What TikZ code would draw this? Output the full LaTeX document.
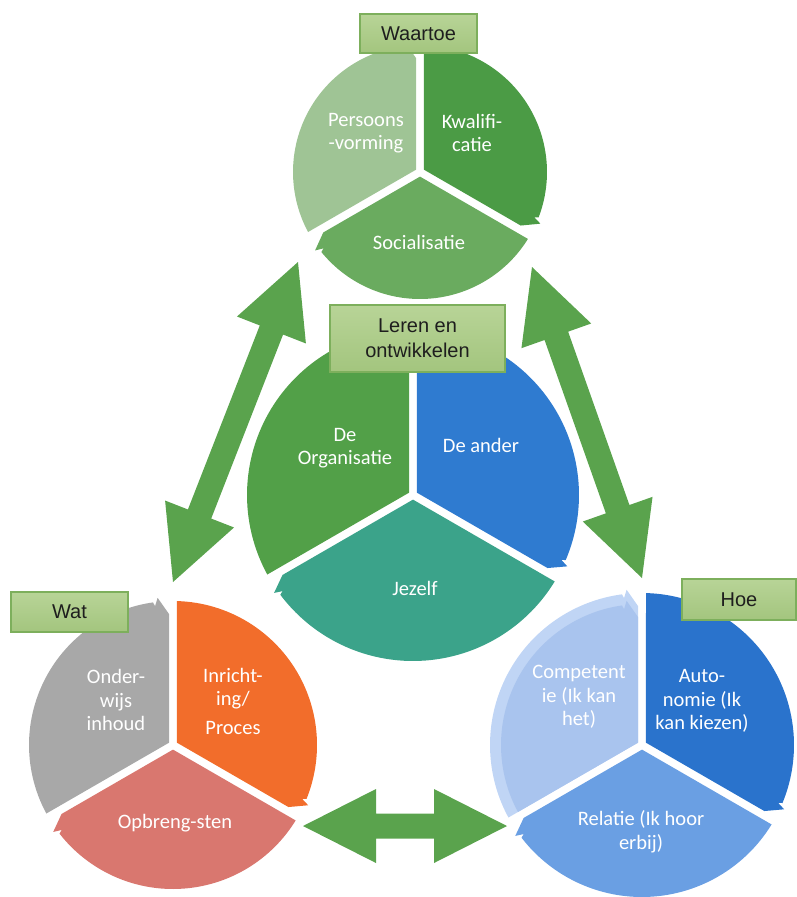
\documentclass[tikz,border=0pt]{standalone}
\usepackage{fontspec}
\setmainfont{Carlito}
\newfontfamily\arialfont{Liberation Sans}
\usetikzlibrary{calc}

\definecolor{persoons}{HTML}{9FC495}
\definecolor{kwalif}{HTML}{4B9B45}
\definecolor{social}{HTML}{6AAB5F}
\definecolor{organis}{HTML}{52A048}
\definecolor{ander}{HTML}{2F7BD0}
\definecolor{jezelf}{HTML}{3BA38A}
\definecolor{onderwijs}{HTML}{A8A8A8}
\definecolor{inricht}{HTML}{F26D2B}
\definecolor{opbreng}{HTML}{D9776F}
\definecolor{compet}{HTML}{A9C4EE}
\definecolor{competrim}{HTML}{C0D5F5}
\definecolor{autonom}{HTML}{2A73CC}
\definecolor{relatie}{HTML}{6A9FE3}
\definecolor{arrowgreen}{HTML}{5AA34D}
\definecolor{boxtop}{HTML}{B8D497}
\definecolor{boxbot}{HTML}{A3C57E}
\definecolor{boxborder}{HTML}{7DAF5C}
\definecolor{boxtext}{HTML}{1E1E1E}

% segment: centre x, centre y (pixels, downwards), radius, ccw angle, cw angle, colour
\newcommand{\cycseg}[6]{%
  \begin{scope}[shift={(#1,-#2)}]
    \fill[#6] ({(#4+#5)/2}:4.6)
      -- ({#4-229/#3}:#3)
      arc[start angle={#4-229/#3}, end angle={#5+1150/#3}, radius=#3]
      -- ({#5+1060/#3}:{#3-4})
      -- ({#5+860/#3}:{#3+4})
      -- ($({#5}:{#3-13})+({#5+90}:4)$)
      -- cycle;
  \end{scope}}

\newcommand{\bigdblarrow}[2]{%
  \coordinate (ha) at ($(#1)!73pt!(#2)$);
  \coordinate (hb) at ($(#2)!73pt!(#1)$);
  \fill[arrowgreen] (#1)
    -- ($(ha)!37pt!90:(#2)$) -- ($(ha)!12.5pt!90:(#2)$)
    -- ($(hb)!12.5pt!-90:(#1)$) -- ($(hb)!37pt!-90:(#1)$)
    -- (#2)
    -- ($(hb)!37pt!90:(#1)$) -- ($(hb)!12.5pt!90:(#1)$)
    -- ($(ha)!12.5pt!-90:(#2)$) -- ($(ha)!37pt!-90:(#2)$)
    -- cycle;}

\tikzset{
  segtext/.style={text=white, font=\fontsize{20.5}{23.5}\selectfont, align=center, inner sep=0pt},
  labelbox/.style={draw=boxborder, line width=1.2pt, top color=boxtop, bottom color=boxbot,
    font=\arialfont\fontsize{20}{25}\selectfont, text=boxtext, align=center, inner sep=0pt}
}

\begin{document}
\begin{tikzpicture}[x=1pt,y=1pt]
\useasboundingbox (0,0) rectangle (796,-897);

% Waartoe circle
\cycseg{420}{172}{127}{210}{90}{persoons}
\cycseg{420}{172}{127}{90}{-30}{kwalif}
\cycseg{420}{172}{127}{330}{210}{social}

% Leren circle
\cycseg{413}{495}{166}{210}{90}{organis}
\cycseg{413}{495}{166}{90}{-30}{ander}
\cycseg{413}{495}{166}{330}{210}{jezelf}

% Wat circle
\cycseg{173}{745}{144}{210}{90}{onderwijs}
\cycseg{173}{745}{144}{90}{-30}{inricht}
\cycseg{173}{745}{144}{330}{210}{opbreng}

% Hoe circle
\cycseg{642}{745}{152}{210}{90}{competrim}
\cycseg{642}{745}{141}{210}{90}{compet}
\cycseg{642}{745}{152}{90}{-30}{autonom}
\cycseg{642}{745}{152}{330}{210}{relatie}

% segment texts
\node[segtext] (persoons) at (366,-133) {Persoons\\-vorming};
\node[segtext] (kwalificatie) at (472,-133) {Kwalifi-\\catie};
\node[segtext] (socialisatie) at (419,-242) {Socialisatie};

\node[segtext] (organisatie) at (345,-448) {De\\Organisatie};
\node[segtext] (deander) at (481,-445) {De ander};
\node[segtext] (jezelf) at (415,-588) {Jezelf};

\node[segtext] (onderwijs) at (116,-700) {Onder-\\wijs\\inhoud};
\node[segtext] (inrichting) at (233,-701) {Inricht-\\ing/\\[5pt]Proces};
\node[segtext] (opbrengsten) at (175,-823) {Opbreng-sten};

\node[segtext] (competentie) at (579,-697) {Competent\\ie (Ik kan\\het)};
\node[segtext] (autonomie) at (702,-701) {Auto-\\nomie (Ik\\kan kiezen)};
\node[segtext] (relatie) at (641,-832) {Relatie (Ik hoor\\erbij)};

% double arrows
\coordinate (lefttop) at (298,-262);
\coordinate (leftbot) at (173,-582);
\coordinate (righttop) at (532,-267);
\coordinate (rightbot) at (642,-578);
\coordinate (botleft) at (303,-826);
\coordinate (botright) at (507,-826);
\bigdblarrow{lefttop}{leftbot}
\bigdblarrow{righttop}{rightbot}
\bigdblarrow{botleft}{botright}

% label boxes
\node[labelbox, minimum width=117, minimum height=39] (waartoe) at (418.5,-33.5) {Waartoe};
\node[labelbox, minimum width=175, minimum height=67] (leren) at (417.5,-338.5) {Leren en\\ontwikkelen};
\node[labelbox, minimum width=117, minimum height=40] (wat) at (69.5,-612) {Wat};
\node[labelbox, minimum width=114, minimum height=41] (hoe) at (739,-599.5) {Hoe};
\end{tikzpicture}
\end{document}
